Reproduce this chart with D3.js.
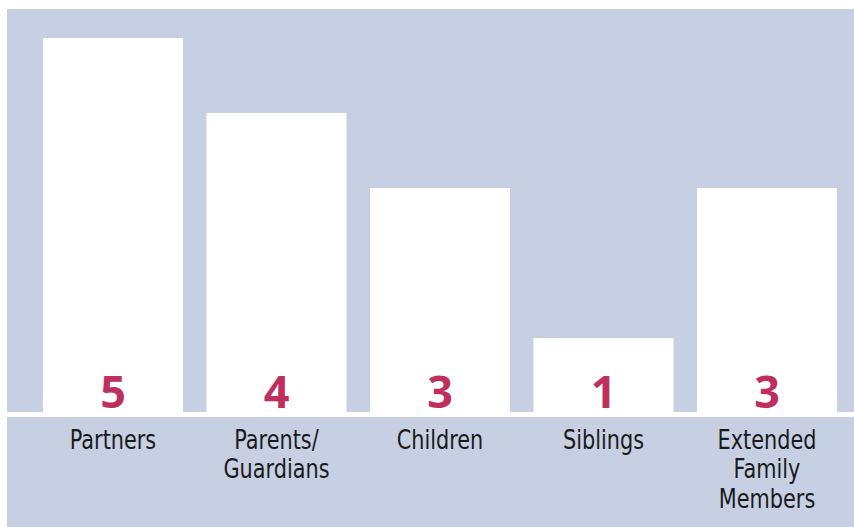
<!DOCTYPE html>
<html>

<head>
	<meta charset="utf-8">
	<title>Family members</title>
	<script src="https://d3js.org/d3.v7.min.js"></script>
	<style>
		body { margin: 0; background: #fff; }
	</style>
</head>

<body>
	<script>
		// Chart data
		const categories = ['Partners', 'Parents/\nGuardians', 'Children', 'Siblings', 'Extended\nFamily\nMembers'];
		const counts = [5, 4, 3, 1, 3];
		const yDomain = [0, 5];

		const W = 854, H = 527;
		const bg = '#c7d0e3';
		const accent = '#be2f5e';

		const svg = d3.select('body')
			.append('svg')
			.attr('width', W)
			.attr('height', H);

		// Panels: plot area and label strip, white gap between
		svg.append('rect')
			.attr('x', 7).attr('y', 9)
			.attr('width', W - 7).attr('height', 403)
			.attr('fill', bg);
		svg.append('rect')
			.attr('x', 7).attr('y', 417)
			.attr('width', W - 7).attr('height', H - 417)
			.attr('fill', bg);

		const x = d3.scaleBand()
			.domain(categories)
			.range([31.25, 848.75])
			.paddingInner(0.1437)
			.paddingOuter(0.0719);

		const y = d3.scaleLinear()
			.domain(yDomain)
			.range([413, 38]);

		const data = categories.map((c, i) => ({ cat: c, v: counts[i] }));

		// Bars (run down to the panel edge)
		svg.selectAll('rect.bar')
			.data(data)
			.enter()
			.append('rect')
			.attr('class', 'bar')
			.attr('x', d => x(d.cat))
			.attr('y', d => y(d.v))
			.attr('width', x.bandwidth())
			.attr('height', d => 412 - y(d.v))
			.attr('fill', '#fff');

		// Value labels
		svg.selectAll('text.val')
			.data(data)
			.enter()
			.append('text')
			.attr('class', 'val')
			.attr('x', d => x(d.cat) + x.bandwidth() / 2)
			.attr('y', 408)
			.attr('text-anchor', 'middle')
			.attr('font-family', '"Open Sans", sans-serif')
			.attr('font-weight', 700)
			.attr('font-size', 45)
			.attr('fill', accent)
			.text(d => d.v);

		// Category labels (squeezed horizontally to mimic a condensed face)
		const lab = svg.selectAll('text.cat')
			.data(data)
			.enter()
			.append('text')
			.attr('class', 'cat')
			.attr('transform', d => `translate(${x(d.cat) + x.bandwidth() / 2}, 449) scale(0.89, 1)`)
			.attr('text-anchor', 'middle')
			.attr('font-family', '"DejaVu Sans Condensed", "DejaVu Sans", sans-serif')
			.attr('font-size', 26)
			.attr('fill', '#1a1a1a');

		lab.selectAll('tspan')
			.data(d => d.cat.split('\n'))
			.enter()
			.append('tspan')
			.attr('x', 0)
			.attr('dy', (d, i) => i === 0 ? 0 : 29.5)
			.text(d => d);
	</script>
</body>

</html>
